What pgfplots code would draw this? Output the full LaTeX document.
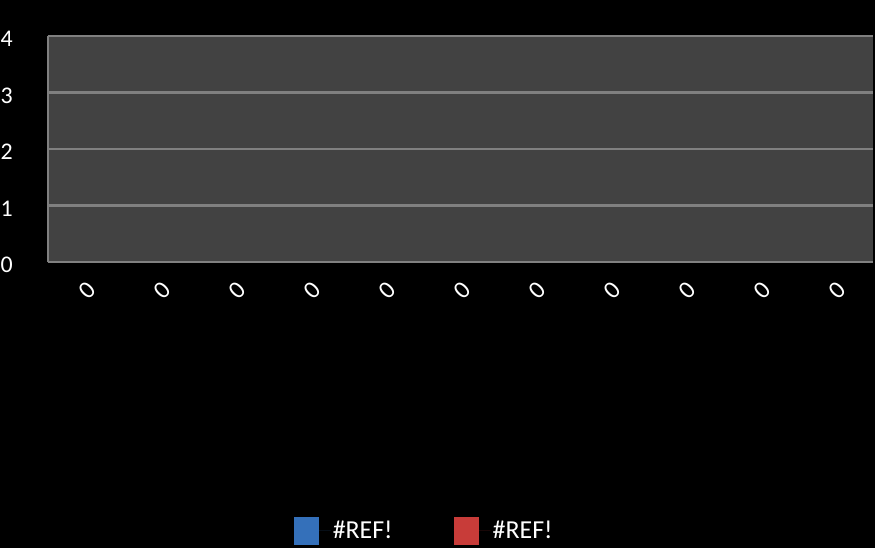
\documentclass[border=0pt]{standalone}
\usepackage{pgfplots}
\pgfplotsset{compat=1.18}
\usepackage{fontspec}
\setmainfont{Carlito}
\definecolor{plotbg}{HTML}{424242}
\definecolor{gridc}{HTML}{808080}
\definecolor{serA}{HTML}{3470BA}
\definecolor{serB}{HTML}{C83C39}
\pgfplotstableread{
x a b
0 0 0
1 0 0
2 0 0
3 0 0
4 0 0
5 0 0
6 0 0
7 0 0
8 0 0
9 0 0
10 0 0
}\datatable
\begin{document}
\begin{tikzpicture}
\fill[black] (0,0) rectangle (875bp,548bp);
\useasboundingbox (0,0) rectangle (875bp,548bp);
\begin{axis}[
  at={(48bp,286bp)}, anchor=south west,
  scale only axis, width=825bp, height=226bp,
  xmin=-0.5, xmax=10.5, ymin=0, ymax=4,
  ytick={0,1,2,3,4},
  xtick={0,...,10},
  xticklabels={0,0,0,0,0,0,0,0,0,0,0},
  ybar, bar width=20bp,
  axis background/.style={fill=plotbg},
  axis x line*=bottom, axis y line*=left,
  axis line style={draw=gridc, line width=2.2bp},
  ymajorgrids, grid style={draw=gridc, line width=2.2bp},
  major tick length=0pt,
  /pgf/number format/assume math mode=true,
  tick label style={font=\fontsize{24}{27}\selectfont, text=white},
  yticklabel style={anchor=west, xshift=-51bp, yshift=-3bp},
  xticklabel style={anchor=center, xshift=2bp, yshift=-28bp, rotate=45, font=\fontsize{25}{28}\selectfont},
  legend columns=2,
  legend style={at={(0.456,-1.19)}, anchor=center, draw=none, fill=none,
    text=white, font=\fontsize{26}{29}\selectfont,
    /tikz/every even column/.append style={column sep=59bp}},
]
\addplot[fill=serA, draw=none,
  legend image code/.code={\fill[serA] (0bp,-14bp) rectangle (25bp,14bp);\path (0bp,0bp) -- (37bp,0bp);}]
  table[x=x, y=a] {\datatable};
\addlegendentry{\#REF!}
\addplot[fill=serB, draw=none,
  legend image code/.code={\fill[serB] (0bp,-14bp) rectangle (25bp,14bp);\path (0bp,0bp) -- (37bp,0bp);}]
  table[x=x, y=b] {\datatable};
\addlegendentry{\#REF!}
\end{axis}
\end{tikzpicture}
\end{document}
